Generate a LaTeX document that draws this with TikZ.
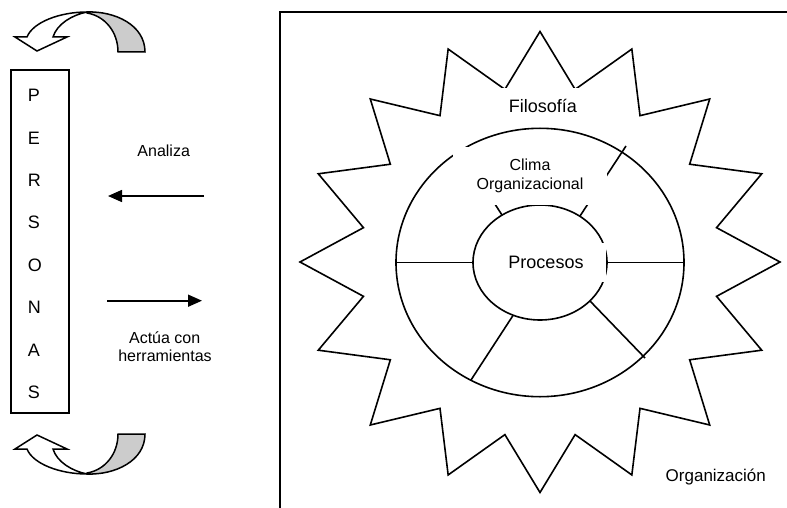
\documentclass[tikz,border=0pt]{standalone}
\usepackage{fontspec}
\setmainfont{Liberation Sans}
\usetikzlibrary{arrows.meta}
\definecolor{bandgray}{HTML}{CCCCCC}
\newcommand{\labelsmall}{\fontsize{16}{19.5}\selectfont}
\newcommand{\labelbig}{\fontsize{18}{22}\selectfont}
\newcommand{\labelorg}{\fontsize{17}{21}\selectfont}
% U-turn block arrow: shaded back band plus white front band with head
\newcommand{\uturnarrow}{%
  \filldraw[band, fill=bandgray] (87,12) .. controls (115,11) and (145,25) .. (145,52)
    -- (118,52) .. controls (118,32) and (105,16) .. (87,13) -- cycle;
  \filldraw[band, fill=white] (27,37) .. controls (33,22) and (60,12) .. (87,12)
    .. controls (72,15) and (57,24) .. (53,37) -- (67,37) -- (37,51) -- (15,37) -- cycle;
}
\begin{document}
\begin{tikzpicture}[x=1pt, y=-1pt, line width=1.6pt,
  every node/.style={inner sep=0pt},
  band/.style={line width=1.5pt, line join=miter},
  flow/.style={-{Triangle[length=14pt,width=12pt]}},
  letter/.style={font=\labelbig, anchor=base west},
  note/.style={font=\labelsmall, anchor=base},
  cover/.style={fill=white}]
\useasboundingbox (0,0) rectangle (787,508);

% organisation frame
\draw (280,508) -- (280,12) -- (787,12);

% sixteen-point star (philosophy)
\draw (540,31.5)
  \foreach \k in {0,...,15} {
    -- ({540+180*cos(101.25+22.5*\k)},{262-176*sin(101.25+22.5*\k)})
    -- ({540+240*cos(112.5+22.5*\k)},{262-230.5*sin(112.5+22.5*\k)})
  } -- cycle;

% climate ring and process core
\draw (540,262.5) ellipse [x radius=144pt, y radius=134.2pt];
\draw (540,262.5) ellipse [x radius=67pt, y radius=57.5pt];

% radial dividers of the ring
\coordinate (rL1) at (396,262.5); \coordinate (rL2) at (473,262.5);
\coordinate (rR1) at (607,262.5); \coordinate (rR2) at (684,262.5);
\coordinate (rBL1) at (513,315.5); \coordinate (rBL2) at (471,380);
\coordinate (rBR1) at (590,301); \coordinate (rBR2) at (645,358);
\coordinate (rUR1) at (580,216); \coordinate (rUR2) at (626,146);
\coordinate (rUL1) at (502,215); \coordinate (rUL2) at (460,150);
\draw (rL1) -- (rL2);
\draw (rR1) -- (rR2);
\draw (rBL1) -- (rBL2);
\draw (rBR1) -- (rBR2);
\draw (rUR1) -- (rUR2);
\draw (rUL1) -- (rUL2);

% labels of the organisation
\node[font=\labelbig, anchor=base, cover, text height=24.5pt, text depth=12pt, inner xsep=25pt]
  (filo) at (542.8,113) {Filosofía};
\node[font=\labelsmall, cover, minimum width=154pt, minimum height=58pt, align=center]
  (clima) at (530,176) {Clima\\Organizacional};
\node[font=\labelbig, anchor=base, cover, text height=25pt, text depth=14pt, inner xsep=22pt]
  (proc) at (546,268) {Procesos};
\node[font=\labelorg, anchor=base] (org) at (715.8,481.5) {Organización};

% people column
\node[draw, minimum width=58pt, minimum height=343pt] (personas) at (40,241.5) {};
\foreach \l [count=\i from 0] in {P,E,R,S,O,N,A,S}
  \node[letter] (L\i) at (27,{101.7+42.4*\i}) {\l};

% analyse / act arrows
\node[note] (analiza) at (163.7,157) {Analiza};
\coordinate (anFrom) at (204,196);
\coordinate (anTo) at (108,196);
\draw[flow] (anFrom) -- (anTo);
\coordinate (acFrom) at (107,300.7);
\coordinate (acTo) at (202,300.7);
\draw[flow] (acFrom) -- (acTo);
\node[note] (act1) at (164.7,343.3) {Actúa con};
\node[note] (act2) at (165,361) {herramientas};

% turning arrows above and below the column
\uturnarrow
\begin{scope}[shift={(0,486)}, yscale=-1]
  \uturnarrow
\end{scope}
\end{tikzpicture}
\end{document}
